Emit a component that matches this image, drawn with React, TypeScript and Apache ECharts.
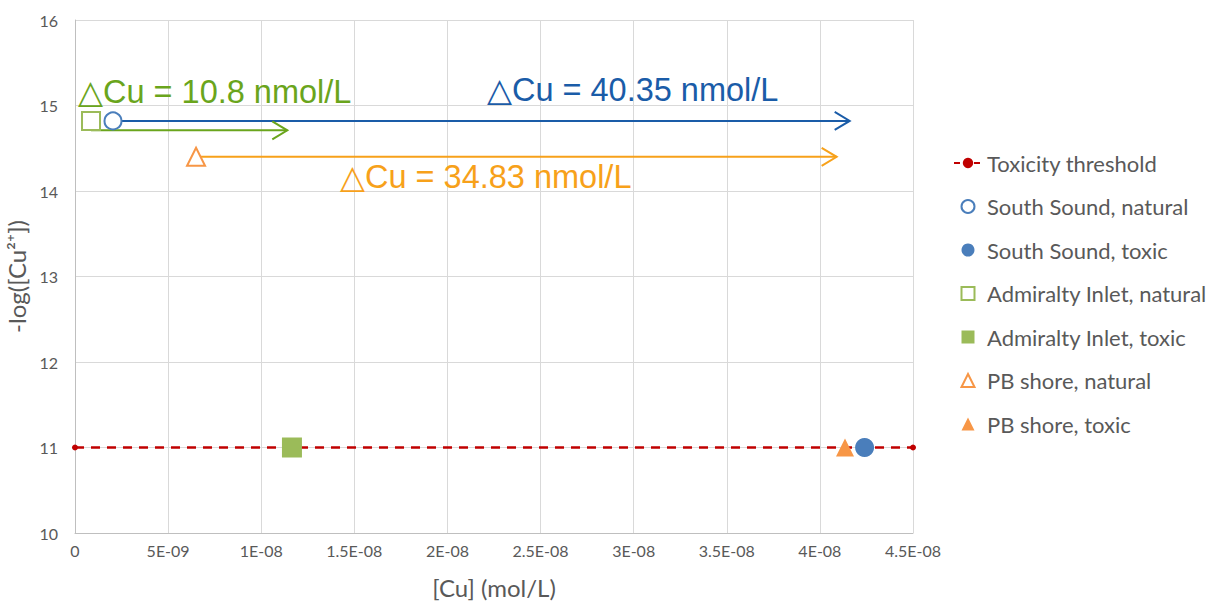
import React, { useEffect, useRef } from "react";
import * as echarts from "echarts";

// ---- data ----
const xTickLabels = ["0", "5E-09", "1E-08", "1.5E-08", "2E-08", "2.5E-08", "3E-08", "3.5E-08", "4E-08", "4.5E-08"];
const thresholdX = [0, 4.5e-8];
const thresholdY = [11, 11];

const pointNames = [
  "South Sound, natural",
  "South Sound, toxic",
  "Admiralty Inlet, natural",
  "Admiralty Inlet, toxic",
  "PB shore, natural",
  "PB shore, toxic",
];
const pointX = [2.04e-9, 4.24e-8, 0.86e-9, 1.165e-8, 6.5e-9, 4.135e-8];
const pointY = [14.82, 11, 14.82, 11, 14.4, 11];

const arrowFromX = [2.04e-9, 0.86e-9, 6.5e-9];
const arrowToX = [4.16e-8, 1.14e-8, 4.09e-8];
const arrowY = [14.82, 14.71, 14.4];

const annoText = ["△Cu = 10.8 nmol/L", "△Cu = 40.35 nmol/L", "△Cu = 34.83 nmol/L"];
const annoX = [0.16e-9, 2.212e-8, 1.423e-8];
const annoY = [15.16, 15.18, 14.16];

// ---- styles ----
const BLUE = "#4a7ebb";
const GREEN = "#9bbb59";
const ORANGE = "#f79646";
const arrowColors = ["#1a5ca8", "#6aa51c", "#f7a11a"];
const annoColors = ["#6aa51c", "#1a5ca8", "#f7a11a"];
const SQUARE_ICON = "path://M0,0H10V10H0Z";
const TRI_ICON = "path://M5,0L10,10L0,10Z";
const pointStyles = [
  { symbol: "circle", size: 17, hollow: true, color: BLUE, icon: "circle" },
  { symbol: "circle", size: 19, hollow: false, color: BLUE, icon: "circle" },
  { symbol: "rect", size: 18, hollow: true, color: GREEN, icon: SQUARE_ICON },
  { symbol: "rect", size: 20, hollow: false, color: GREEN, icon: SQUARE_ICON },
  { symbol: "triangle", size: 18, hollow: true, color: ORANGE, icon: TRI_ICON },
  { symbol: "triangle", size: 18, hollow: false, color: ORANGE, icon: TRI_ICON },
];

export default function App() {
  const ref = useRef<HTMLDivElement>(null);
  useEffect(() => {
    if (!ref.current) return;
    const chart = echarts.init(ref.current, undefined, { renderer: "svg" });
    const labelFont = "Lato, 'Open Sans', sans-serif";
    const scatterSeries = pointNames.map((name, i) => {
      const st = pointStyles[i];
      return {
        name,
        type: "scatter",
        z: 5,
        symbol: st.symbol,
        symbolSize: st.size,
        itemStyle: st.hollow
          ? { color: "#ffffff", borderColor: st.color, borderWidth: 2, opacity: 1 }
          : { color: st.color, borderWidth: 0, opacity: 1 },
        data: [[pointX[i], pointY[i]]],
      };
    });
    const option: any = {
      animation: false,
      grid: { left: 75, right: 298, top: 20, bottom: 68, containLabel: false, outerBoundsMode: "none" },
      xAxis: {
        type: "value",
        min: 0,
        max: 4.5e-8,
        interval: 5e-9,
        name: "[Cu] (mol/L)",
        nameLocation: "middle",
        nameGap: 42,
        nameTextStyle: { color: "#595959", fontSize: 24, fontFamily: labelFont },
        axisLine: { show: true, lineStyle: { color: "#bfbfbf", width: 1 } },
        axisTick: { show: false },
        axisLabel: {
          color: "#595959",
          fontSize: 16,
          fontFamily: labelFont,
          margin: 9,
          formatter: (_v: number, i: number) => xTickLabels[i] ?? "",
        },
        splitLine: { show: true, lineStyle: { color: "#d9d9d9", width: 1 } },
      },
      yAxis: {
        type: "value",
        min: 10,
        max: 16,
        interval: 1,
        name: "-log([Cu²⁺])",
        nameLocation: "middle",
        nameGap: 35,
        nameTextStyle: { color: "#595959", fontSize: 24, fontFamily: labelFont },
        axisLine: { show: true, lineStyle: { color: "#bfbfbf", width: 1 } },
        axisTick: { show: false },
        axisLabel: { color: "#595959", fontSize: 16, fontFamily: labelFont, margin: 17 },
        splitLine: { show: true, lineStyle: { color: "#d9d9d9", width: 1 } },
      },
      legend: {
        orient: "vertical",
        left: 948,
        top: 147,
        itemWidth: 28,
        itemHeight: 13,
        itemGap: 21.5,
        symbolKeepAspect: true,
        data: [
          { name: "Toxicity threshold", lineStyle: { type: [6, 4] } },
          ...pointNames.map((n, i) => ({ name: n, icon: pointStyles[i].icon })),
        ],
        textStyle: { color: "#595959", fontSize: 22, fontFamily: labelFont, lineHeight: 20, padding: [0, 0, 0, 0] },
      },
      series: [
        {
          name: "Toxicity threshold",
          type: "line",
          symbol: "circle",
          symbolSize: 6,
          showSymbol: true,
          z: 3,
          itemStyle: { color: "#c00000" },
          lineStyle: { color: "#c00000", width: 2.5, type: [9, 7] },
          data: thresholdX.map((x, i) => [x, thresholdY[i]]),
        },
        ...scatterSeries,
        {
          name: "arrows",
          type: "custom",
          z: 4,
          encode: { x: [0, 1], y: 2 },
          data: arrowFromX.map((x, i) => ({
            value: [x, arrowToX[i], arrowY[i]],
            itemStyle: { color: arrowColors[i] },
          })),
          renderItem: (_p: any, api: any) => {
            const a = api.coord([api.value(0), api.value(2)]);
            const b = api.coord([api.value(1), api.value(2)]);
            const c = api.visual("color");
            return {
              type: "group",
              children: [
                { type: "line", shape: { x1: a[0], y1: a[1], x2: b[0], y2: b[1] }, style: { stroke: c, lineWidth: 2 } },
                {
                  type: "polyline",
                  shape: { points: [[b[0] - 15, b[1] - 9], [b[0], b[1]], [b[0] - 15, b[1] + 9]] },
                  style: { stroke: c, lineWidth: 2, fill: "none" },
                },
              ],
            };
          },
        },
        {
          name: "annotations",
          type: "custom",
          z: 6,
          encode: { x: 0, y: 1 },
          data: annoX.map((x, i) => [x, annoY[i]]),
          renderItem: (p: any, api: any) => {
            const pt = api.coord([api.value(0), api.value(1)]);
            return {
              type: "text",
              x: pt[0],
              y: pt[1],
              style: {
                text: annoText[p.dataIndex],
                fill: annoColors[p.dataIndex],
                font: "32.5px 'Liberation Sans', Arial, 'DejaVu Sans', sans-serif",
                align: "left",
                verticalAlign: "middle",
                textAlign: "left",
                textVerticalAlign: "middle",
              },
            };
          },
        },
      ],
    };
    chart.setOption(option);
    return () => chart.dispose();
  }, []);
  return (
    <div
      ref={ref}
      style={{ position: "fixed", left: 0, top: 0, width: 1211, height: 601, background: "#ffffff" }}
    />
  );
}
